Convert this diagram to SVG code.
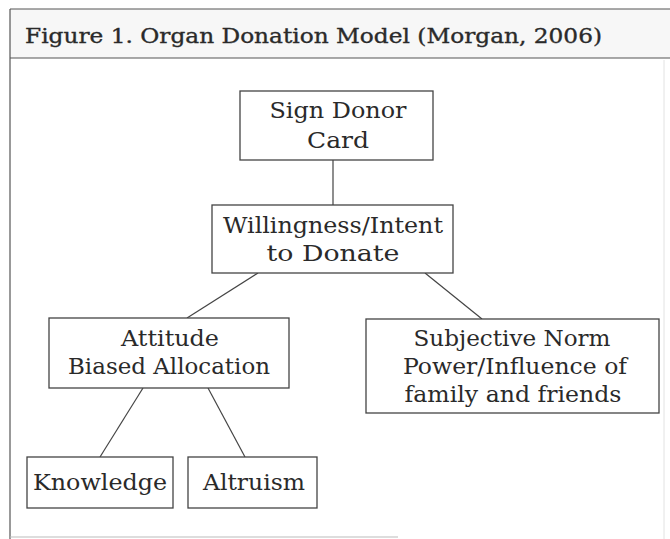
<svg xmlns="http://www.w3.org/2000/svg" width="670" height="539" viewBox="0 0 670 539">
<style>
.frame{stroke:#555;stroke-width:1.2;fill:none}
.box{fill:#fff;stroke:#444;stroke-width:1.3}
.edge{stroke:#444;stroke-width:1.2;fill:none}
text{font-family:"DejaVu Serif","Liberation Serif",serif;fill:#2a2a2a;text-anchor:middle}
.t{font-size:23px}
.title{font-size:20px;text-anchor:start;stroke:#2a2a2a;stroke-width:0.35}
</style>
<rect x="0" y="0" width="670" height="539" fill="#fff"/>
<g id="frame">
<rect x="10" y="9" width="660" height="49" fill="#f7f7f7"/>
<line class="frame" x1="10" y1="9" x2="670" y2="9"/>
<line class="frame" x1="10" y1="58" x2="670" y2="58"/>
<line class="frame" x1="10" y1="9" x2="10" y2="539"/>
<line x1="10" y1="537" x2="398" y2="537" stroke="#bbb" stroke-width="1"/>
<line x1="664" y1="60" x2="664" y2="539" stroke="#e2e2e2" stroke-width="1"/>
<text class="title" x="25" y="43" textLength="577" lengthAdjust="spacingAndGlyphs">Figure 1. Organ Donation Model (Morgan, 2006)</text>
</g>
<g id="connectors">
<line class="edge" x1="333" y1="160" x2="333" y2="205"/>
<line class="edge" x1="258" y1="273" x2="187" y2="318"/>
<line class="edge" x1="425" y1="273" x2="482" y2="319"/>
<line class="edge" x1="143" y1="388" x2="100" y2="457"/>
<line class="edge" x1="208" y1="388" x2="245" y2="457"/>
</g>
<g id="sign">
<rect class="box" x="240" y="91" width="193" height="69"/>
<text class="t" x="338" y="118" textLength="137" lengthAdjust="spacingAndGlyphs">Sign Donor</text>
<text class="t" x="338" y="148" textLength="62" lengthAdjust="spacingAndGlyphs">Card</text>
</g>
<g id="willingness">
<rect class="box" x="212" y="205" width="241" height="68"/>
<text class="t" x="333" y="233" textLength="220" lengthAdjust="spacingAndGlyphs">Willingness/Intent</text>
<text class="t" x="333" y="261" textLength="133" lengthAdjust="spacingAndGlyphs">to Donate</text>
</g>
<g id="attitude">
<rect class="box" x="49" y="318" width="240" height="70"/>
<text class="t" x="170" y="346" textLength="98" lengthAdjust="spacingAndGlyphs">Attitude</text>
<text class="t" x="169" y="374" textLength="202" lengthAdjust="spacingAndGlyphs">Biased Allocation</text>
</g>
<g id="subjective">
<rect class="box" x="366" y="319" width="293" height="94"/>
<text class="t" x="512" y="346" textLength="197" lengthAdjust="spacingAndGlyphs">Subjective Norm</text>
<text class="t" x="515" y="374" textLength="224" lengthAdjust="spacingAndGlyphs">Power/Influence of</text>
<text class="t" x="513" y="402" textLength="217" lengthAdjust="spacingAndGlyphs">family and friends</text>
</g>
<g id="knowledge">
<rect class="box" x="27" y="457" width="146" height="51"/>
<text class="t" x="100" y="490" textLength="134" lengthAdjust="spacingAndGlyphs">Knowledge</text>
</g>
<g id="altruism">
<rect class="box" x="188" y="457" width="129" height="51"/>
<text class="t" x="254" y="490" textLength="102" lengthAdjust="spacingAndGlyphs">Altruism</text>
</g>
</svg>
